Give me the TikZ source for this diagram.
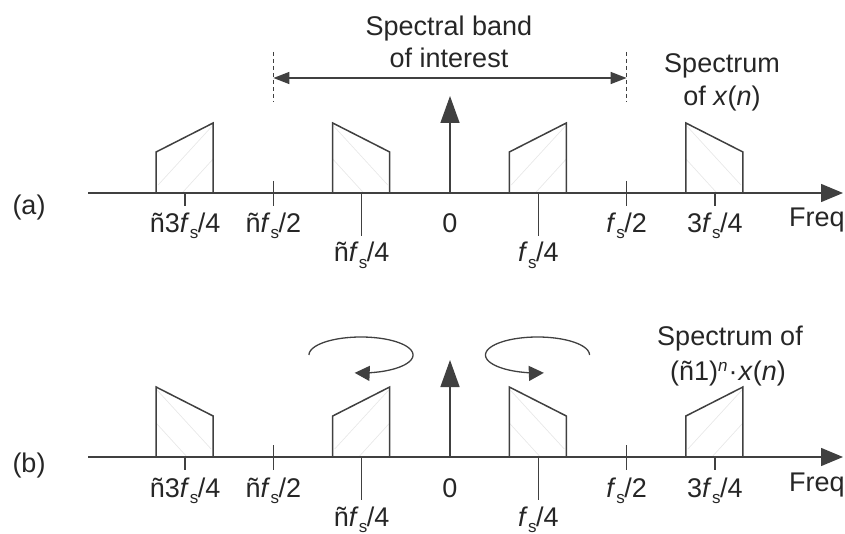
\documentclass[tikz,border=0pt]{standalone}
\usepackage{fontspec}
\setmainfont{Liberation Sans}
\usetikzlibrary{arrows.meta}
\newcommand\fsub{\textit{f}\kern0.2pt\raisebox{-6pt}{\fontsize{17}{17}\selectfont s}\kern-0.5pt}
\newcommand\blkR[2]{%
  \draw[hatch] (#1-27,#2-8) -- (#1+28,#2-68);
  \draw[hatch] (#1-3,#2) -- (#1+28,#2-34);
  \draw[ln] (#1-29,#2) -- (#1-29,#2-41) -- (#1+28,#2-70) -- (#1+28,#2);}
\newcommand\blkF[2]{%
  \draw[hatch] (#1+26,#2-8) -- (#1-29,#2-68);
  \draw[hatch] (#1+2,#2) -- (#1-29,#2-34);
  \draw[ln] (#1-29,#2) -- (#1-29,#2-70) -- (#1+28,#2-41) -- (#1+28,#2);}
\begin{document}
\begin{tikzpicture}[x=1pt,y=-1pt,
  ln/.style={draw=black!75, line width=1.5pt},
  hatch/.style={draw=black!9, line width=0.7pt},
  lbl/.style={anchor=base, inner sep=0pt, text=black!85, font=\fontsize{27}{32}\selectfont},
  bigtip/.style={-{Triangle[length=27pt,width=19pt]}},
  axtip/.style={-{Triangle[length=22pt,width=18pt]}},
  rottip/.style={-{Triangle[length=15pt,width=15pt]}},
  bandtip/.style={{Triangle[length=16pt,width=12pt]}-{Triangle[length=16pt,width=12pt]}}]
\useasboundingbox (0,0) rectangle (845,534);
% ---------------- panel (a) ----------------
\coordinate (a0) at (88,193);
\coordinate (a1) at (843,193);
\blkR{185.1}{193}
\blkF{361.7}{193}
\blkR{538.3}{193}
\blkF{714.9}{193}
\draw[ln, axtip] (a0) -- (a1);
\draw[ln] (185.1,193) -- (185.1,206);
\draw[ln] (273.4,181) -- (273.4,206);
\draw[ln] (361.7,193) -- (361.7,236);
\draw[ln] (538.3,193) -- (538.3,236);
\draw[ln] (626.6,181) -- (626.6,206);
\draw[ln] (714.9,193) -- (714.9,206);
\coordinate (ac0) at (450,193);
\coordinate (ac1) at (450,96);
\draw[ln, bigtip] (ac0) -- (ac1);
% band of interest
\coordinate (d1a) at (273.4,52);
\coordinate (d1b) at (273.4,102);
\coordinate (d2a) at (626.6,52);
\coordinate (d2b) at (626.6,102);
\draw[draw=black!75, line width=1.4pt, dash pattern=on 4pt off 3pt] (d1a) -- (d1b);
\draw[draw=black!75, line width=1.4pt, dash pattern=on 4pt off 3pt] (d2a) -- (d2b);
\coordinate (b1) at (273.4,78);
\coordinate (b2) at (626.6,78);
\draw[ln, bandtip] (b1) -- (b2);
\node[lbl] (t1) at (449,36) {Spectral band};
\node[lbl] (t2) at (449,68) {of interest};
\node[lbl] (s1) at (722,73) {Spectrum};
\node[lbl] (s2) at (722,106) {of \textit{x}(\textit{n})};
\node[lbl] (la) at (29,215) {(a)};
\node[lbl] (a3m) at (185.1,233) {ñ3\fsub/4};
\node[lbl] (a2m) at (273.4,233) {ñ\fsub/2};
\node[lbl] (a1m) at (361.7,262) {ñ\fsub/4};
\node[lbl] (azero) at (450,233) {0};
\node[lbl] (a1p) at (538.3,262) {\fsub/4};
\node[lbl] (a2p) at (626.6,233) {\fsub/2};
\node[lbl] (a3p) at (714.9,233) {3\fsub/4};
\node[lbl, anchor=base west] (afreq) at (789,227) {Freq};
% ---------------- panel (b) ----------------
\coordinate (c0) at (88,457);
\coordinate (c1) at (843,457);
\blkF{185.1}{457}
\blkR{361.7}{457}
\blkF{538.3}{457}
\blkR{714.9}{457}
\draw[ln, axtip] (c0) -- (c1);
\draw[ln] (185.1,457) -- (185.1,470);
\draw[ln] (273.4,445) -- (273.4,470);
\draw[ln] (361.7,457) -- (361.7,500);
\draw[ln] (538.3,457) -- (538.3,500);
\draw[ln] (626.6,445) -- (626.6,470);
\draw[ln] (714.9,457) -- (714.9,470);
\coordinate (bc0) at (450,457);
\coordinate (bc1) at (450,360);
\draw[ln, bigtip] (bc0) -- (bc1);
% rotation arrows
\draw[draw=black!75, line width=1.3pt, rottip] plot[domain=180:457, samples=80, smooth] ({361+52*cos(\x)}, {355+18*sin(\x)});
\draw[draw=black!75, line width=1.3pt, rottip] plot[domain=0:-277, samples=80, smooth] ({537.5+52*cos(\x)}, {355+18*sin(\x)});
\node[lbl] (r1) at (730,345) {Spectrum of};
\node[lbl] (r2) at (728,380) {(ñ1)\raisebox{9pt}{\fontsize{17}{17}\selectfont\textit{n}}\kern1pt·\kern1pt\textit{x}(\textit{n})};
\node[lbl] (lb) at (29,472) {(b)};
\node[lbl] (b3m) at (185.1,497) {ñ3\fsub/4};
\node[lbl] (b2m) at (273.4,497) {ñ\fsub/2};
\node[lbl] (b1m) at (361.7,526) {ñ\fsub/4};
\node[lbl] (bzero) at (450,497) {0};
\node[lbl] (b1p) at (538.3,526) {\fsub/4};
\node[lbl] (b2p) at (626.6,497) {\fsub/2};
\node[lbl] (b3p) at (714.9,497) {3\fsub/4};
\node[lbl, anchor=base west] (bfreq) at (789,491) {Freq};
\end{tikzpicture}
\end{document}
